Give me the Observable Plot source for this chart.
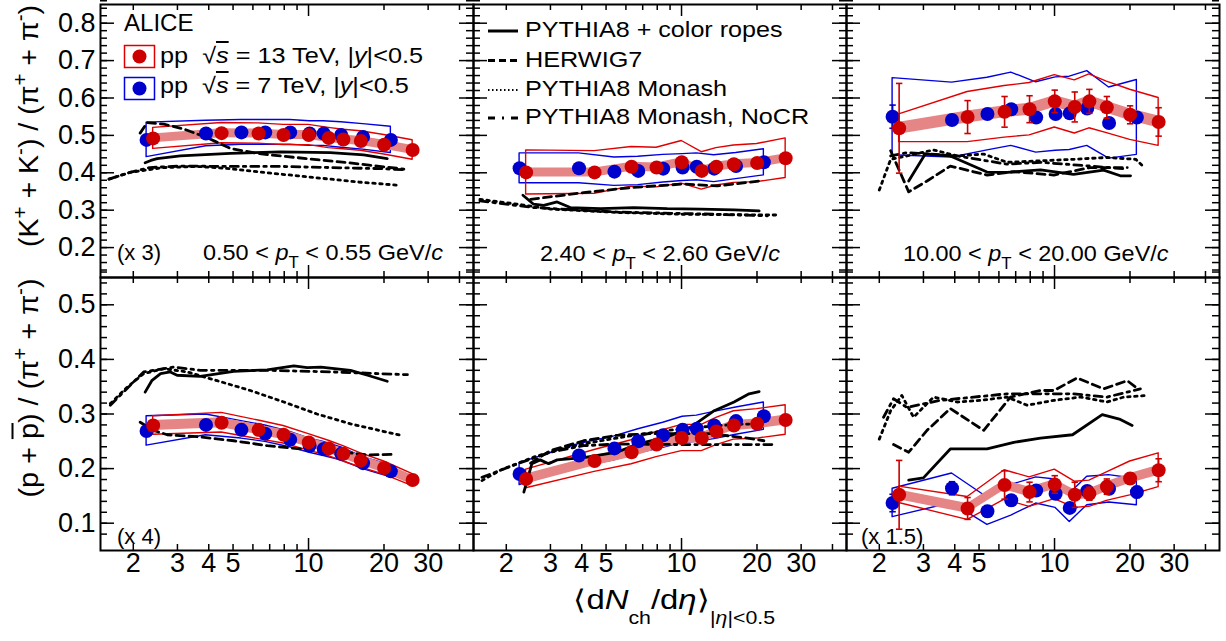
<!DOCTYPE html>
<html><head><meta charset="utf-8">
<script src="https://cdn.jsdelivr.net/npm/d3@7"></script>
<script src="https://cdn.jsdelivr.net/npm/@observablehq/plot@0.6"></script>
<style>
body{margin:0;background:#fff;}
#fig{position:relative;width:1226px;height:641px;overflow:hidden;background:#fff;font-family:"Liberation Sans",Arial,Helvetica,sans-serif;color:#000;}
#fig svg{position:absolute;overflow:visible;}
.t{position:absolute;white-space:nowrap;line-height:1;}
.sup{position:relative;top:-0.55em;font-size:0.72em;}
.sub{position:relative;top:0.5em;font-size:0.72em;}
.sub2{position:relative;top:0.85em;font-size:0.65em;}
.ovl{text-decoration:overline;}
</style></head><body><div id="fig"></div>
<script>
// ---------------- data ----------------
const dN13 = [2.40, 4.50, 6.32, 7.95, 10.02, 12.04, 13.77, 16.17, 20.02, 26.02];
const dN7  = [2.26, 3.90, 5.40, 6.72, 8.45, 10.1, 11.5, 13.5, 16.5, 21.3];

// (K+ + K-)/(pi+ + pi-), 0.50 < pT < 0.55 (x3)
const kLo13    = [0.492, 0.506, 0.505, 0.501, 0.501, 0.493, 0.489, 0.485, 0.475, 0.461];
const kLo13Sys = [0.028, 0.027, 0.027, 0.027, 0.027, 0.027, 0.026, 0.026, 0.026, 0.026];
const kLo7     = [0.488, 0.505, 0.508, 0.508, 0.508, 0.505, 0.505, 0.501, 0.496, 0.488];
const kLo7Sys  = [0.046, 0.034, 0.033, 0.033, 0.033, 0.033, 0.033, 0.034, 0.034, 0.035];
// 2.40 < pT < 2.60
const kMid13    = [0.401, 0.401, 0.416, 0.414, 0.428, 0.405, 0.416, 0.423, 0.426, 0.439];
const kMid13Sys = [0.059, 0.057, 0.053, 0.053, 0.057, 0.050, 0.050, 0.050, 0.051, 0.053];
const kMid7     = [0.412, 0.412, 0.403, 0.405, 0.411, 0.414, 0.416, 0.411, 0.418, 0.428];
const kMid7Sys  = [0.040, 0.040, 0.038, 0.038, 0.037, 0.036, 0.036, 0.036, 0.035, 0.035];
// 10 < pT < 20
const kHi13    = [0.519, 0.549, 0.563, 0.570, 0.591, 0.576, 0.591, 0.575, 0.555, 0.536];
const kHi13Err = [0.120, 0.044, 0.041, 0.036, 0.030, 0.040, 0.032, 0.029, 0.024, 0.038];
const kHi13Sys = [0.037, 0.067, 0.069, 0.070, 0.070, 0.071, 0.072, 0.069, 0.067, 0.064];
const kHi7     = [0.550, 0.541, 0.557, 0.570, 0.548, 0.557, 0.559, 0.572, 0.533, 0.548];
const kHi7Err  = [0.031, 0.012, 0.010, 0.010, 0.008, 0.008, 0.008, 0.008, 0.008, 0.010];
const kHi7Sys  = [0.103, 0.100, 0.097, 0.098, 0.094, 0.098, 0.098, 0.100, 0.095, 0.100];

// (p + pbar)/(pi+ + pi-), 0.50 < pT < 0.55 (x4)
const pLo13    = [0.279, 0.284, 0.271, 0.262, 0.248, 0.237, 0.227, 0.215, 0.201, 0.179];
const pLo13Sys = [0.017, 0.018, 0.017, 0.016, 0.015, 0.014, 0.014, 0.013, 0.012, 0.011];
const pLo7     = [0.269, 0.280, 0.271, 0.264, 0.253, 0.242, 0.236, 0.227, 0.210, 0.195];
const pLo7Sys  = [0.027, 0.019, 0.016, 0.015, 0.014, 0.013, 0.013, 0.012, 0.011, 0.011];
// 2.40 < pT < 2.60
const pMid13    = [0.181, 0.214, 0.230, 0.244, 0.256, 0.256, 0.268, 0.279, 0.282, 0.289];
const pMid13Sys = [0.017, 0.020, 0.022, 0.023, 0.024, 0.024, 0.025, 0.026, 0.027, 0.027];
const pMid7     = [0.190, 0.224, 0.237, 0.250, 0.261, 0.271, 0.273, 0.279, 0.287, 0.296];
const pMid7Sys  = [0.020, 0.021, 0.022, 0.022, 0.023, 0.024, 0.024, 0.025, 0.025, 0.025];
// 10 < pT < 20 (x1.5)
const pHi13    = [0.152, 0.127, 0.170, 0.157, 0.171, 0.152, 0.154, 0.167, 0.182, 0.197];
const pHi13Err = [0.063, 0.020, 0.026, 0.018, 0.016, 0.023, 0.012, 0.014, 0.010, 0.021];
const pHi13Sys = [0.015, 0.021, 0.027, 0.027, 0.027, 0.024, 0.024, 0.026, 0.031, 0.031];
const pHi7     = [0.137, 0.164, 0.122, 0.142, 0.160, 0.154, 0.128, 0.159, 0.163, 0.157];
const pHi7Err  = [0.016, 0.012, 0.010, 0.010, 0.008, 0.008, 0.008, 0.008, 0.008, 0.010];
const pHi7Sys  = [0.026, 0.027, 0.025, 0.028, 0.024, 0.026, 0.026, 0.026, 0.025, 0.024];

// uncorrelated uncertainty of 13 TeV (shaded band), per panel
const uncorr13 = [0.012, 0.012, 0.016, 0.009, 0.009, 0.009];

// ---- model curves ----
const ropesKLoX = [2.23, 2.35, 2.49, 3.08, 4.88, 7.73, 12.2, 16.6, 20.6];
const ropesKLoY = [0.427, 0.433, 0.438, 0.445, 0.452, 0.456, 0.454, 0.448, 0.438];
const herwigKLoX = [2.13, 2.27, 2.65, 3.18, 3.94, 4.88, 6.24, 7.73, 10.5, 14.3, 18.8, 24.0];
const herwigKLoY = [0.506, 0.534, 0.530, 0.517, 0.494, 0.465, 0.452, 0.445, 0.436, 0.427, 0.418, 0.410];
const monashKLoX = [1.60, 1.94, 2.65, 3.59, 4.88, 6.63, 9.01, 12.2, 16.6, 22.6];
const monashKLoY = [0.383, 0.401, 0.414, 0.417, 0.411, 0.401, 0.392, 0.383, 0.374, 0.367];
const nocrKLoX = [1.60, 1.94, 2.33, 3.08, 4.88, 7.73, 12.2, 19.4, 24.4];
const nocrKLoY = [0.383, 0.401, 0.414, 0.418, 0.417, 0.417, 0.414, 0.411, 0.408];

const ropesKMidX = [2.33, 2.57, 2.82, 3.19, 3.60, 4.75, 6.45, 8.77, 11.9, 16.2, 20.4];
const ropesKMidY = [0.340, 0.316, 0.313, 0.322, 0.307, 0.304, 0.307, 0.304, 0.303, 0.301, 0.298];
const herwigKMidX = [2.50, 4.07, 6.45, 10.2, 13.9, 20.4];
const herwigKMidY = [0.329, 0.347, 0.361, 0.370, 0.365, 0.378];
const monashKMidX = [1.57, 2.22, 3.00, 5.54, 10.2, 24.5];
const monashKMidY = [0.329, 0.316, 0.303, 0.294, 0.289, 0.287];
const nocrKMidX = [1.57, 2.57, 5.54, 13.9, 22.0];
const nocrKMidY = [0.325, 0.307, 0.295, 0.289, 0.285];

const ropesKHiX = [2.62, 3.05, 3.84, 5.38, 6.47, 8.79, 11.9, 15.7, 18.3, 20.1];
const ropesKHiY = [0.378, 0.450, 0.445, 0.402, 0.401, 0.408, 0.396, 0.407, 0.392, 0.392];
const herwigKHiX = [2.22, 2.62, 3.10, 3.84, 5.38, 6.88, 9.94, 13.9, 19.5];
const herwigKHiY = [0.459, 0.349, 0.378, 0.418, 0.394, 0.403, 0.394, 0.414, 0.414];
const monashKHiX = [2.00, 2.22, 2.58, 3.29, 4.09, 5.22, 6.47, 8.79, 11.9, 16.2, 21.1, 22.8];
const monashKHiY = [0.354, 0.436, 0.445, 0.461, 0.445, 0.450, 0.428, 0.432, 0.436, 0.441, 0.436, 0.414];
const nocrKHiX = [2.22, 2.58, 4.09, 6.47, 8.79, 13.9, 19.5];
const nocrKHiY = [0.445, 0.454, 0.445, 0.423, 0.428, 0.418, 0.410];

const ropesPLoX = [2.23, 2.37, 2.57, 2.81, 2.99, 3.70, 5.03, 6.84, 8.74, 9.88, 11.2, 14.7, 17.2, 20.6];
const ropesPLoY = [0.340, 0.361, 0.374, 0.377, 0.371, 0.369, 0.378, 0.381, 0.388, 0.385, 0.386, 0.380, 0.371, 0.360];
const herwigPLoX = [2.13, 2.41, 2.73, 3.70, 5.03, 6.84, 9.29, 12.6, 17.2, 21.6];
const herwigPLoY = [0.285, 0.270, 0.262, 0.258, 0.251, 0.242, 0.236, 0.232, 0.225, 0.226];
const monashPLoX = [1.62, 1.89, 2.20, 2.65, 3.28, 4.32, 5.86, 7.97, 10.8, 14.7, 23.3];
const monashPLoY = [0.319, 0.349, 0.374, 0.383, 0.377, 0.361, 0.343, 0.322, 0.300, 0.282, 0.261];
const nocrPLoX = [1.62, 2.20, 2.90, 3.70, 6.84, 12.6, 24.8];
const nocrPLoY = [0.316, 0.377, 0.386, 0.380, 0.380, 0.377, 0.372];

const ropesPMidX = [2.35, 2.53, 2.73, 2.95, 3.19, 4.07, 5.54, 6.65, 8.77, 10.9, 13.5, 16.2, 18.6, 20.4];
const ropesPMidY = [0.157, 0.209, 0.216, 0.209, 0.216, 0.220, 0.230, 0.245, 0.258, 0.276, 0.306, 0.322, 0.337, 0.341];
const herwigPMidX = [2.50, 3.00, 4.07, 5.54, 7.52, 10.2, 13.1, 18.9, 21.3];
const herwigPMidY = [0.210, 0.233, 0.251, 0.261, 0.264, 0.264, 0.264, 0.255, 0.251];
const monashPMidX = [1.60, 1.89, 2.57, 3.49, 4.75, 6.45, 8.77, 11.9, 16.2, 21.0];
const monashPMidY = [0.178, 0.197, 0.221, 0.239, 0.251, 0.261, 0.270, 0.276, 0.281, 0.282];
const nocrPMidX = [1.60, 2.22, 3.00, 4.07, 5.54, 10.2, 23.4];
const nocrPMidY = [0.184, 0.209, 0.230, 0.242, 0.245, 0.244, 0.244];

const ropesPHiX = [2.62, 3.00, 3.84, 5.38, 6.88, 8.79, 11.8, 15.5, 18.3, 20.4];
const ropesPHiY = [0.179, 0.183, 0.236, 0.236, 0.248, 0.256, 0.262, 0.299, 0.290, 0.279];
const herwigPHiX = [2.28, 2.62, 3.10, 3.84, 5.22, 6.67, 8.79, 9.94, 12.3, 15.7, 19.5, 21.1];
const herwigPHiY = [0.244, 0.230, 0.270, 0.310, 0.270, 0.331, 0.343, 0.343, 0.366, 0.346, 0.361, 0.349];
const monashPHiX = [2.00, 2.22, 2.46, 2.74, 3.29, 4.09, 5.06, 6.47, 7.78, 9.94, 12.7, 16.2, 18.9, 23.4];
const monashPHiY = [0.254, 0.306, 0.334, 0.294, 0.331, 0.322, 0.325, 0.331, 0.316, 0.325, 0.331, 0.322, 0.331, 0.334];
const nocrPHiX = [2.08, 2.28, 2.58, 3.50, 4.76, 6.47, 8.79, 11.9, 16.2, 22.0];
const nocrPHiY = [0.294, 0.328, 0.312, 0.325, 0.331, 0.337, 0.337, 0.337, 0.331, 0.346];

// axes
const xDomain = [1.48, 45.5];
const yDomains = [[0.12, 0.85], [0.05, 0.55]];
const xLabels = [2, 3, 4, 5, 10, 20, 30];
const xMajor = [10];
const xMinor = [2, 3, 4, 5, 6, 7, 8, 9, 20, 30, 40];
const yMajorTop = [0.2, 0.3, 0.4, 0.5, 0.6, 0.7, 0.8];
const yMajorBot = [0.1, 0.2, 0.3, 0.4, 0.5];

// ---------------- layout / style ----------------
const RED = "#cc0000", BLUE = "#0000cc", REDL = "#e00000", BLUEL = "#0000e0", PINK = "#e68585";
const W = 373, H = 273, ML = 60, MR = 20, MT = 20, MB = 50;
const colLeft = [100, 473, 846], rowTop = [4, 277];
const FONT = '"Liberation Sans", Arial, Helvetica, sans-serif';
const dashStyles = {
  ropes: {},
  herwig: {strokeDasharray: "8,5"},
  monash: {strokeDasharray: "2.5,4.5"},
  nocr: {strokeDasharray: "8,5,2.5,5"}
};
const zip = (xs, ys) => xs.map((x, i) => ({x, y: ys[i]}));
const cap = {draw(ctx, size) { const w = Math.sqrt(size / Math.PI); ctx.moveTo(-w, 0); ctx.lineTo(w, 0); }};

const panels = [
  {col: 0, row: 0, v13: kLo13, s13: kLo13Sys, v7: kLo7, s7: kLo7Sys,
   models: {ropes: zip(ropesKLoX, ropesKLoY), herwig: zip(herwigKLoX, herwigKLoY), monash: zip(monashKLoX, monashKLoY), nocr: zip(nocrKLoX, nocrKLoY)}},
  {col: 1, row: 0, v13: kMid13, s13: kMid13Sys, v7: kMid7, s7: kMid7Sys,
   models: {ropes: zip(ropesKMidX, ropesKMidY), herwig: zip(herwigKMidX, herwigKMidY), monash: zip(monashKMidX, monashKMidY), nocr: zip(nocrKMidX, nocrKMidY)}},
  {col: 2, row: 0, v13: kHi13, s13: kHi13Sys, e13: kHi13Err, v7: kHi7, s7: kHi7Sys, e7: kHi7Err,
   models: {ropes: zip(ropesKHiX, ropesKHiY), herwig: zip(herwigKHiX, herwigKHiY), monash: zip(monashKHiX, monashKHiY), nocr: zip(nocrKHiX, nocrKHiY)}},
  {col: 0, row: 1, v13: pLo13, s13: pLo13Sys, v7: pLo7, s7: pLo7Sys,
   models: {ropes: zip(ropesPLoX, ropesPLoY), herwig: zip(herwigPLoX, herwigPLoY), monash: zip(monashPLoX, monashPLoY), nocr: zip(nocrPLoX, nocrPLoY)}},
  {col: 1, row: 1, v13: pMid13, s13: pMid13Sys, v7: pMid7, s7: pMid7Sys,
   models: {ropes: zip(ropesPMidX, ropesPMidY), herwig: zip(herwigPMidX, herwigPMidY), monash: zip(monashPMidX, monashPMidY), nocr: zip(nocrPMidX, nocrPMidY)}},
  {col: 2, row: 1, v13: pHi13, s13: pHi13Sys, e13: pHi13Err, v7: pHi7, s7: pHi7Sys, e7: pHi7Err,
   models: {ropes: zip(ropesPHiX, ropesPHiY), herwig: zip(herwigPHiX, herwigPHiY), monash: zip(monashPHiX, monashPHiY), nocr: zip(nocrPHiX, nocrPHiY)}}
];

const fig = document.getElementById("fig");

panels.forEach((p, k) => {
  const band = uncorr13[k];
  const pts13 = dN13.map((x, i) => ({x, v: p.v13[i], s: p.s13[i], e: p.e13 ? p.e13[i] : 0, b: band}));
  const pts7 = dN7.map((x, i) => ({x, v: p.v7[i], s: p.s7[i], e: p.e7 ? p.e7[i] : 0}));
  const yDom = yDomains[p.row];
  const yMajor = p.row === 0 ? yMajorTop : yMajorBot;
  const yMinor = d3.range(Math.round(yDom[0] * 50) + 1, Math.round(yDom[1] * 50) + 1).map(i => +(i / 50).toFixed(2));
  const ink = {stroke: "black", strokeWidth: 1.5};
  const marks = [
    Plot.areaY(pts7, {x: "x", y1: d => d.v - d.s, y2: d => d.v + d.s, fill: "none", stroke: BLUEL, strokeWidth: 1.4}),
    Plot.areaY(pts13, {x: "x", y1: d => d.v - d.s, y2: d => d.v + d.s, fill: "none", stroke: REDL, strokeWidth: 1.4}),
    Plot.areaY(pts13, {x: "x", y1: d => d.v - d.b, y2: d => d.v + d.b, fill: PINK}),
    ...["nocr", "monash", "herwig", "ropes"].map(m =>
      Plot.line(p.models[m], {x: "x", y: "y", stroke: "black", strokeWidth: 2.8, ...dashStyles[m]})),
  ];
  if (p.e7) {
    marks.push(Plot.ruleX(pts7, {x: "x", y1: d => d.v - d.e, y2: d => d.v + d.e, stroke: BLUE, strokeWidth: 1.6}));
    marks.push(Plot.dot(pts7, {x: "x", y: d => d.v - d.e, symbol: cap, r: 3.2, stroke: BLUE, fill: "none", strokeWidth: 1.6}));
    marks.push(Plot.dot(pts7, {x: "x", y: d => d.v + d.e, symbol: cap, r: 3.2, stroke: BLUE, fill: "none", strokeWidth: 1.6}));
  }
  marks.push(Plot.dot(pts7, {x: "x", y: "v", r: 7, fill: BLUE}));
  if (p.e13) {
    marks.push(Plot.ruleX(pts13, {x: "x", y1: d => d.v - d.e, y2: d => d.v + d.e, stroke: RED, strokeWidth: 1.6}));
    marks.push(Plot.dot(pts13, {x: "x", y: d => d.v - d.e, symbol: cap, r: 3.2, stroke: RED, fill: "none", strokeWidth: 1.6}));
    marks.push(Plot.dot(pts13, {x: "x", y: d => d.v + d.e, symbol: cap, r: 3.2, stroke: RED, fill: "none", strokeWidth: 1.6}));
  }
  marks.push(Plot.dot(pts13, {x: "x", y: "v", r: 7, fill: RED}));
  // inward ticks on all four sides
  marks.push(
    Plot.ruleX(xMinor, {x: d => d, insetTop: H - 6, ...ink}),
    Plot.ruleX(xMinor, {x: d => d, insetBottom: H - 6, ...ink}),
    Plot.ruleX(xMajor, {x: d => d, insetTop: H - 12, ...ink}),
    Plot.ruleX(xMajor, {x: d => d, insetBottom: H - 12, ...ink}),
    Plot.ruleY(yMinor, {y: d => d, insetRight: W - 7, ...ink}),
    Plot.ruleY(yMinor, {y: d => d, insetLeft: W - 7, ...ink}),
    Plot.ruleY(yMajor, {y: d => d, insetRight: W - 14, ...ink}),
    Plot.ruleY(yMajor, {y: d => d, insetLeft: W - 14, ...ink}),
    Plot.frame({stroke: "black", strokeWidth: 2})
  );
  if (p.row === 1) marks.push(Plot.text(xLabels, {x: d => d, frameAnchor: "bottom", dy: 21, text: d => String(d), fontSize: 27, fill: "black"}));
  if (p.col === 0) marks.push(Plot.text(yMajor, {y: d => d, frameAnchor: "left", dx: -5, textAnchor: "end", text: d => d.toFixed(1), fontSize: 27, fill: "black"}));

  const svg = Plot.plot({
    width: W + ML + MR, height: H + MT + MB,
    marginLeft: ML, marginRight: MR, marginTop: MT, marginBottom: MB,
    x: {type: "log", domain: xDomain, axis: null},
    y: {domain: yDom, axis: null},
    style: {background: "transparent", overflow: "visible", fontFamily: FONT},
    marks
  });
  svg.style.position = "absolute";
  svg.style.left = (colLeft[p.col] - ML) + "px";
  svg.style.top = (rowTop[p.row] - MT) + "px";
  svg.style.maxWidth = "none";
  fig.appendChild(svg);
});

// ---------------- texts ----------------
function label(html, x, yc, size, width, rotate) {
  const d = document.createElement("div");
  d.className = "t";
  d.innerHTML = html;
  d.style.fontSize = size + "px";
  d.style.left = x + "px";
  d.style.top = (rotate ? yc : yc - 0.489 * size) + "px";
  fig.appendChild(d);
  const s = width ? width / d.offsetWidth : 1;
  if (rotate) {
    d.style.transform = `translate(-50%,-50%) rotate(-90deg) scaleX(${s})`;
  } else {
    d.style.transformOrigin = "0 0";
    d.style.transform = `scaleX(${s})`;
  }
  return d;
}

// y-axis titles
label('(K<span class="sup">+</span> + K<span class="sup">-</span>) / (π<span class="sup">+</span> + π<span class="sup">-</span>)', 29, 126, 27, 242, true);
label('(p + <span class="ovl">p</span>) / (π<span class="sup">+</span> + π<span class="sup">-</span>)', 29, 388, 27, 219, true);
// x-axis title
label('⟨d<i>N</i><span class="sub2">ch</span>/d<i>η</i>⟩<span class="sub2">|<i>η</i>|&lt;0.5</span>', 573, 600, 27, 202);

// panel annotations
label('(x 3)', 117, 253, 22, 44);
label('0.50 &lt; <i>p</i><span class="sub">T</span> &lt; 0.55 GeV/<i>c</i>', 203, 253, 22, 240);
label('2.40 &lt; <i>p</i><span class="sub">T</span> &lt; 2.60 GeV/<i>c</i>', 540, 254, 22, 240);
label('10.00 &lt; <i>p</i><span class="sub">T</span> &lt; 20.00 GeV/<i>c</i>', 903, 254, 22, 265);
label('(x 4)', 117, 537, 22, 44);
label('(x 1.5)', 861, 537, 22, 62);

// data legend
label('ALICE', 124, 22.8, 23, 69);
function marker(color, fill, top) {
  const ns = "http://www.w3.org/2000/svg";
  const s = document.createElementNS(ns, "svg");
  s.setAttribute("width", 34); s.setAttribute("height", 26);
  s.style.left = "123px"; s.style.top = top + "px";
  s.innerHTML = `<rect x="1.5" y="1.5" width="30" height="22" fill="white" stroke="${color}" stroke-width="1.5"/><circle cx="16.5" cy="12.5" r="7" fill="${fill}"/>`;
  fig.appendChild(s);
}
marker(REDL, RED, 44);
marker(BLUEL, BLUE, 76);
label('pp &nbsp;√<span class="ovl"><i>s</i></span> = 13 TeV, |<i>y</i>|&lt;0.5', 160, 55.5, 22, 263);
label('pp &nbsp;√<span class="ovl"><i>s</i></span> = 7 TeV, |<i>y</i>|&lt;0.5', 160, 85.5, 22, 249);

// model legend
const modelNames = ["PYTHIA8 + color ropes", "HERWIG7", "PYTHIA8 Monash", "PYTHIA8 Monash, NoCR"];
const modelKeys = ["ropes", "herwig", "monash", "nocr"];
const legendRows = [30, 59.5, 89, 117];
const legendWidths = [258, 117, 202, 284];
(function () {
  const ns = "http://www.w3.org/2000/svg";
  const s = document.createElementNS(ns, "svg");
  s.setAttribute("width", 40); s.setAttribute("height", 130);
  s.style.left = "485px"; s.style.top = "0px";
  const dashLegend = {ropes: "", herwig: "7,4", monash: "1.5,2.5", nocr: "7,7,2,7"};
  s.innerHTML = modelKeys.map((m, i) =>
    `<line x1="3" x2="33" y1="${legendRows[i] + 1}" y2="${legendRows[i] + 1}" stroke="black" stroke-width="${m === 'monash' ? 2 : 3}" ${dashLegend[m] ? `stroke-dasharray="${dashLegend[m]}"` : ""}/>`).join("");
  fig.appendChild(s);
})();
modelNames.forEach((n, i) => label(n, 525, legendRows[i], 22, legendWidths[i]));
</script></body></html>
